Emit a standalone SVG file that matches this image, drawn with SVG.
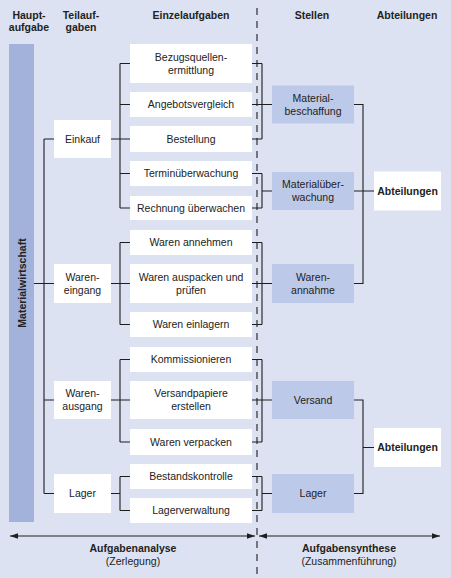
<svg xmlns="http://www.w3.org/2000/svg" width="451" height="578" viewBox="0 0 451 578">
<style>
.t{font-family:"Liberation Sans",Arial,sans-serif;font-size:10.5px;fill:#222;text-anchor:middle}
.b{font-weight:bold}
.task{fill:#ffffff}
.stelle{fill:#bdc9e8}
.ln{fill:none;stroke:#1e1e1e;stroke-width:1.1}
</style>
<defs>
<marker id="ah" viewBox="0 0 10 10" refX="10" refY="5" markerWidth="8" markerHeight="8" orient="auto-start-reverse" markerUnits="userSpaceOnUse">
<path d="M0,1.5 L10,5 L0,8.5 Z" fill="#1e1e1e"/>
</marker>
</defs>
<rect x="0" y="0" width="451" height="578" fill="#dce2f2"/>

<g id="headers">
<text class="t b" x="29" y="19">Haupt-</text>
<text class="t b" x="29" y="31">aufgabe</text>
<text class="t b" x="81" y="19">Teilauf-</text>
<text class="t b" x="81" y="31">gaben</text>
<text class="t b" x="191" y="19">Einzelaufgaben</text>
<text class="t b" x="312" y="19">Stellen</text>
<text class="t b" x="407" y="19">Abteilungen</text>
</g>

<g id="connectors">
<path class="ln" d="M34,283.5H54M44,139V493.5M44,139H54M44,400H54M44,493.5H54"/>
<path class="ln" d="M111,139H120M120,63.5V208M120,63.5H130M120,104.5H130M120,139H130M120,173.5H130M120,208H130"/>
<path class="ln" d="M111,283.5H130M120,242.5V324.5M120,242.5H130M120,324.5H130"/>
<path class="ln" d="M111,400H130M120,359.5V442M120,359.5H130M120,442H130"/>
<path class="ln" d="M111,493.5H120M120,476.5V510.5M120,476.5H130M120,510.5H130"/>
<path class="ln" d="M252,63.5H262M252,104.5H272M252,139H262M252,173.5H262M252,208H262M252,242.5H262M252,283.5H272M252,324.5H262M252,359.5H262M252,400H272M252,442H262M252,476.5H262M252,510.5H262"/>
<path class="ln" d="M262,63.5V139M262,173.5V208M262,191H272M262,242.5V324.5M262,359.5V442M262,476.5V510.5M262,493.5H272"/>
<path class="ln" d="M354,104.5H363V283.5H354M354,191H374"/>
<path class="ln" d="M354,400H363V493.5H354M363,447.5H374"/>
<path class="ln" d="M257,8V578" stroke-dasharray="7 6"/>
<path class="ln" d="M10,536H255" marker-start="url(#ah)" marker-end="url(#ah)"/>
<path class="ln" d="M259,536H440" marker-start="url(#ah)" marker-end="url(#ah)"/>
</g>

<g id="materialwirtschaft">
<rect x="9" y="44" width="25" height="478" fill="#a2b2da"/>
<text class="t b" transform="translate(25.5,283) rotate(-90)" x="0" y="0">Materialwirtschaft</text>
</g>

<g id="einkauf"><rect class="task" x="54" y="120" width="57" height="38"/><text class="t" x="82.5" y="142.7">Einkauf</text></g>
<g id="wareneingang"><rect class="task" x="54" y="264" width="57" height="39"/><text class="t" x="82.5" y="280.7">Waren-</text><text class="t" x="82.5" y="293.7">eingang</text></g>
<g id="warenausgang"><rect class="task" x="54" y="381" width="57" height="38"/><text class="t" x="82.5" y="397.2">Waren-</text><text class="t" x="82.5" y="410.2">ausgang</text></g>
<g id="lager-t"><rect class="task" x="54" y="474" width="57" height="39"/><text class="t" x="82.5" y="497.2">Lager</text></g>

<g id="bezugsquellen"><rect class="task" x="130" y="44" width="122" height="39"/><text class="t" x="191" y="60.7">Bezugsquellen-</text><text class="t" x="191" y="73.7">ermittlung</text></g>
<g id="angebotsvergleich"><rect class="task" x="130" y="92" width="122" height="25"/><text class="t" x="191" y="108.2">Angebotsvergleich</text></g>
<g id="bestellung"><rect class="task" x="130" y="126" width="122" height="26"/><text class="t" x="191" y="142.7">Bestellung</text></g>
<g id="terminueberwachung"><rect class="task" x="130" y="161" width="122" height="25"/><text class="t" x="191" y="177.2">Terminüberwachung</text></g>
<g id="rechnung"><rect class="task" x="130" y="196" width="122" height="24"/><text class="t" x="191" y="211.7">Rechnung überwachen</text></g>
<g id="warenannehmen"><rect class="task" x="130" y="230" width="122" height="25"/><text class="t" x="191" y="246.2">Waren annehmen</text></g>
<g id="warenauspacken"><rect class="task" x="130" y="264" width="122" height="39"/><text class="t" x="191" y="280.7">Waren auspacken und</text><text class="t" x="191" y="293.7">prüfen</text></g>
<g id="wareneinlagern"><rect class="task" x="130" y="312" width="122" height="25"/><text class="t" x="191" y="328.2">Waren einlagern</text></g>
<g id="kommissionieren"><rect class="task" x="130" y="347" width="122" height="25"/><text class="t" x="191" y="363.2">Kommissionieren</text></g>
<g id="versandpapiere"><rect class="task" x="130" y="381" width="122" height="38"/><text class="t" x="191" y="397.2">Versandpapiere</text><text class="t" x="191" y="410.2">erstellen</text></g>
<g id="warenverpacken"><rect class="task" x="130" y="429" width="122" height="26"/><text class="t" x="191" y="445.7">Waren verpacken</text></g>
<g id="bestandskontrolle"><rect class="task" x="130" y="464" width="122" height="25"/><text class="t" x="191" y="480.2">Bestandskontrolle</text></g>
<g id="lagerverwaltung"><rect class="task" x="130" y="498" width="122" height="25"/><text class="t" x="191" y="514.2">Lagerverwaltung</text></g>

<g id="materialbeschaffung"><rect class="stelle" x="272" y="85.5" width="82" height="38"/><text class="t" x="313" y="101.7">Material-</text><text class="t" x="313" y="114.7">beschaffung</text></g>
<g id="materialueberwachung"><rect class="stelle" x="272" y="172" width="82" height="38"/><text class="t" x="313" y="188.2">Materialüber-</text><text class="t" x="313" y="201.2">wachung</text></g>
<g id="warenannahme"><rect class="stelle" x="272" y="264" width="82" height="39"/><text class="t" x="313" y="280.7">Waren-</text><text class="t" x="313" y="293.7">annahme</text></g>
<g id="versand"><rect class="stelle" x="272" y="381" width="82" height="38"/><text class="t" x="313" y="403.7">Versand</text></g>
<g id="lager-s"><rect class="stelle" x="272" y="474" width="82" height="39"/><text class="t" x="313" y="497.2">Lager</text></g>

<g id="abteilungen1"><rect class="task" x="374" y="171.5" width="67" height="39"/><text class="t b" x="407.5" y="194.7">Abteilungen</text></g>
<g id="abteilungen2"><rect class="task" x="374" y="428" width="67" height="39"/><text class="t b" x="407.5" y="451.2">Abteilungen</text></g>

<g id="footer">
<text class="t b" x="133" y="552">Aufgabenanalyse</text>
<text class="t" x="133" y="565">(Zerlegung)</text>
<text class="t b" x="349" y="552">Aufgabensynthese</text>
<text class="t" x="349" y="565">(Zusammenführung)</text>
</g>
</svg>
